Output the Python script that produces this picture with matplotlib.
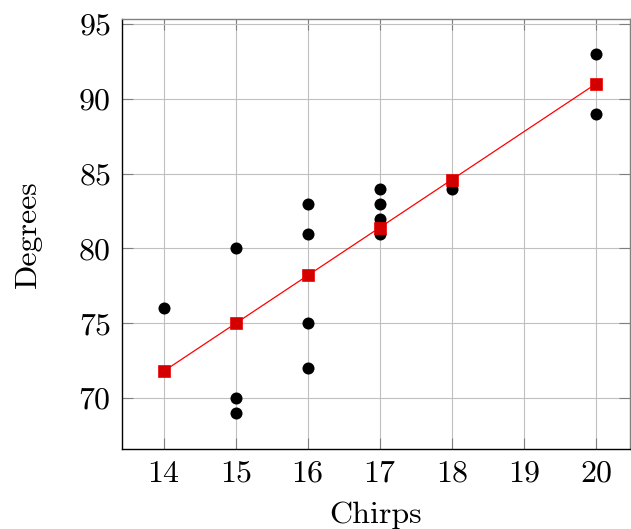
import matplotlib
matplotlib.use('Agg')
import matplotlib.pyplot as plt

# Datos: chirridos vs temperatura
chirps = [14, 15, 15, 15, 16, 16, 16, 16, 17, 17, 17, 17, 18, 20, 20]
degrees = [76, 80, 70, 69, 83, 81, 75, 72, 84, 83, 82, 81, 84, 93, 89]

# Recta de regresion
fit_x = [14, 15, 16, 17, 18, 20]
fit_y = [71.8, 75.0, 78.2, 81.4, 84.6, 91.0]

plt.rcParams['font.family'] = ['cmr10', 'DejaVu Serif']
plt.rcParams['axes.formatter.use_mathtext'] = True

fig = plt.figure(figsize=(6.31, 5.29), dpi=100)
ax = fig.add_axes([0.1933, 0.1512, 0.8047, 0.8128])

ax.scatter(chirps, degrees, s=75, color='black', zorder=3, linewidths=0)
ax.plot(fit_x, fit_y, color='#ff0000', lw=0.9, marker='s', markersize=8.7,
        markerfacecolor='#d40000', markeredgecolor='#ee0000', markeredgewidth=0.5, zorder=4)

ax.set_xlim(13.42, 20.47)
ax.set_ylim(66.6, 95.33)
ax.set_xticks([14, 15, 16, 17, 18, 19, 20])
ax.set_yticks([70, 75, 80, 85, 90, 95])

ax.grid(True, color='#c0c0c0', lw=0.8)
ax.set_axisbelow(True)
ax.tick_params(direction='in', length=8, width=0.8, color='#808080',
               labelsize=23, top=True, right=True, pad=8)

for side in ['top', 'right']:
    ax.spines[side].set_color('#808080')
for side in ['left', 'bottom']:
    ax.spines[side].set_color('black')
for s in ax.spines.values():
    s.set_linewidth(1.0)

ax.set_xlabel('Chirps', fontsize=23, labelpad=10)
ax.set_ylabel('Degrees', fontsize=23, labelpad=26)

fig.savefig('out.png', dpi=100)
